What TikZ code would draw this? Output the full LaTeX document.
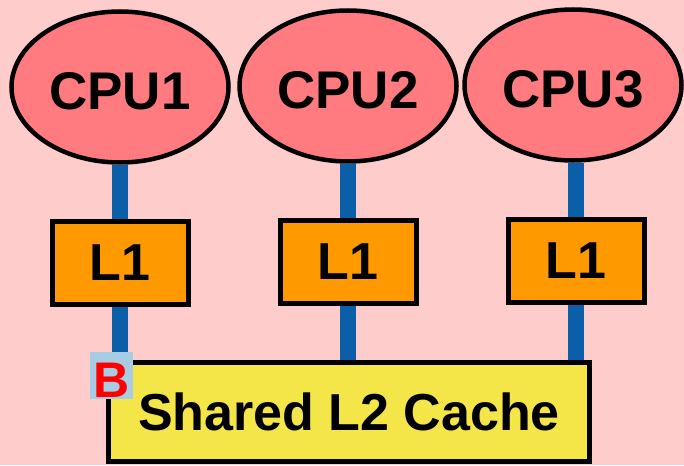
\documentclass[tikz,border=0pt]{standalone}
\usepackage{fontspec}
\setmainfont{Liberation Sans}
\usetikzlibrary{shapes.geometric,backgrounds}

\definecolor{bgpink}{RGB}{255,204,204}
\definecolor{cpured}{RGB}{255,123,128}
\definecolor{l1orange}{RGB}{255,153,0}
\definecolor{l2yellow}{RGB}{244,230,72}
\definecolor{linkblue}{RGB}{11,94,168}
\definecolor{tagblue}{RGB}{168,204,228}

\begin{document}
\begin{tikzpicture}[x=1pt, y=-1pt,
	cpu/.style = {ellipse, draw=black, fill=cpured, line width=4.5pt, minimum width=217pt, minimum height=151pt, inner sep=0pt, text height=46pt, text depth=0pt, font=\fontsize{53}{60}\selectfont\bfseries},
	l1/.style = {rectangle, draw=black, fill=l1orange, line width=5pt, minimum width=136pt, minimum height=83pt, inner sep=0pt, font=\fontsize{52}{60}\selectfont\bfseries},
	l2/.style = {rectangle, draw=black, fill=l2yellow, line width=5pt, minimum width=481pt, minimum height=99pt, inner sep=0pt, font=\fontsize{52}{60}\selectfont\bfseries},
	tag/.style = {rectangle, fill=tagblue, text=red, minimum width=43pt, minimum height=47pt, inner sep=0pt, text height=44pt, text depth=0pt, font=\fontsize{50}{52}\selectfont\bfseries},
	r/.style = {line width=16pt, draw=linkblue}
	]
	
	\useasboundingbox (0, 0) rectangle (684, 465);
	
	%Nodes
	\node[cpu]	(cpu-1)	at	(120, 87)	{CPU1};
	\node[cpu]	(cpu-2)	at	(348, 86)	{CPU2};
	\node[cpu]	(cpu-3)	at	(573, 85)	{CPU3};
	\node[l1]	(l1-1)	at	(120, 263)	{L1};
	\node[l1]	(l1-2)	at	(348, 262)	{L1};
	\node[l1]	(l1-3)	at	(576, 261)	{L1};
	\node[l2]	(l2)	at	(349, 412)	{Shared L2 Cache};
	\node[tag]	(b)		at	(111.5, 375.5)	{B};
	
	%Lines
	\begin{scope}[on background layer]
		\fill[bgpink] (0, 0) rectangle (684, 465);
		\draw[r]	(cpu-1.south)	to	(l1-1.north);
		\draw[r]	(cpu-2.south)	to	(l1-2.north);
		\draw[r]	(l1-3.north |- cpu-3.south)	to	(l1-3.north);
		\draw[r]	(l1-1.south)	to	(l1-1.south |- l2.north);
		\draw[r]	(l1-2.south)	to	(l1-2.south |- l2.north);
		\draw[r]	(l1-3.south)	to	(l1-3.south |- l2.north);
	\end{scope}
	
\end{tikzpicture}
\end{document}
